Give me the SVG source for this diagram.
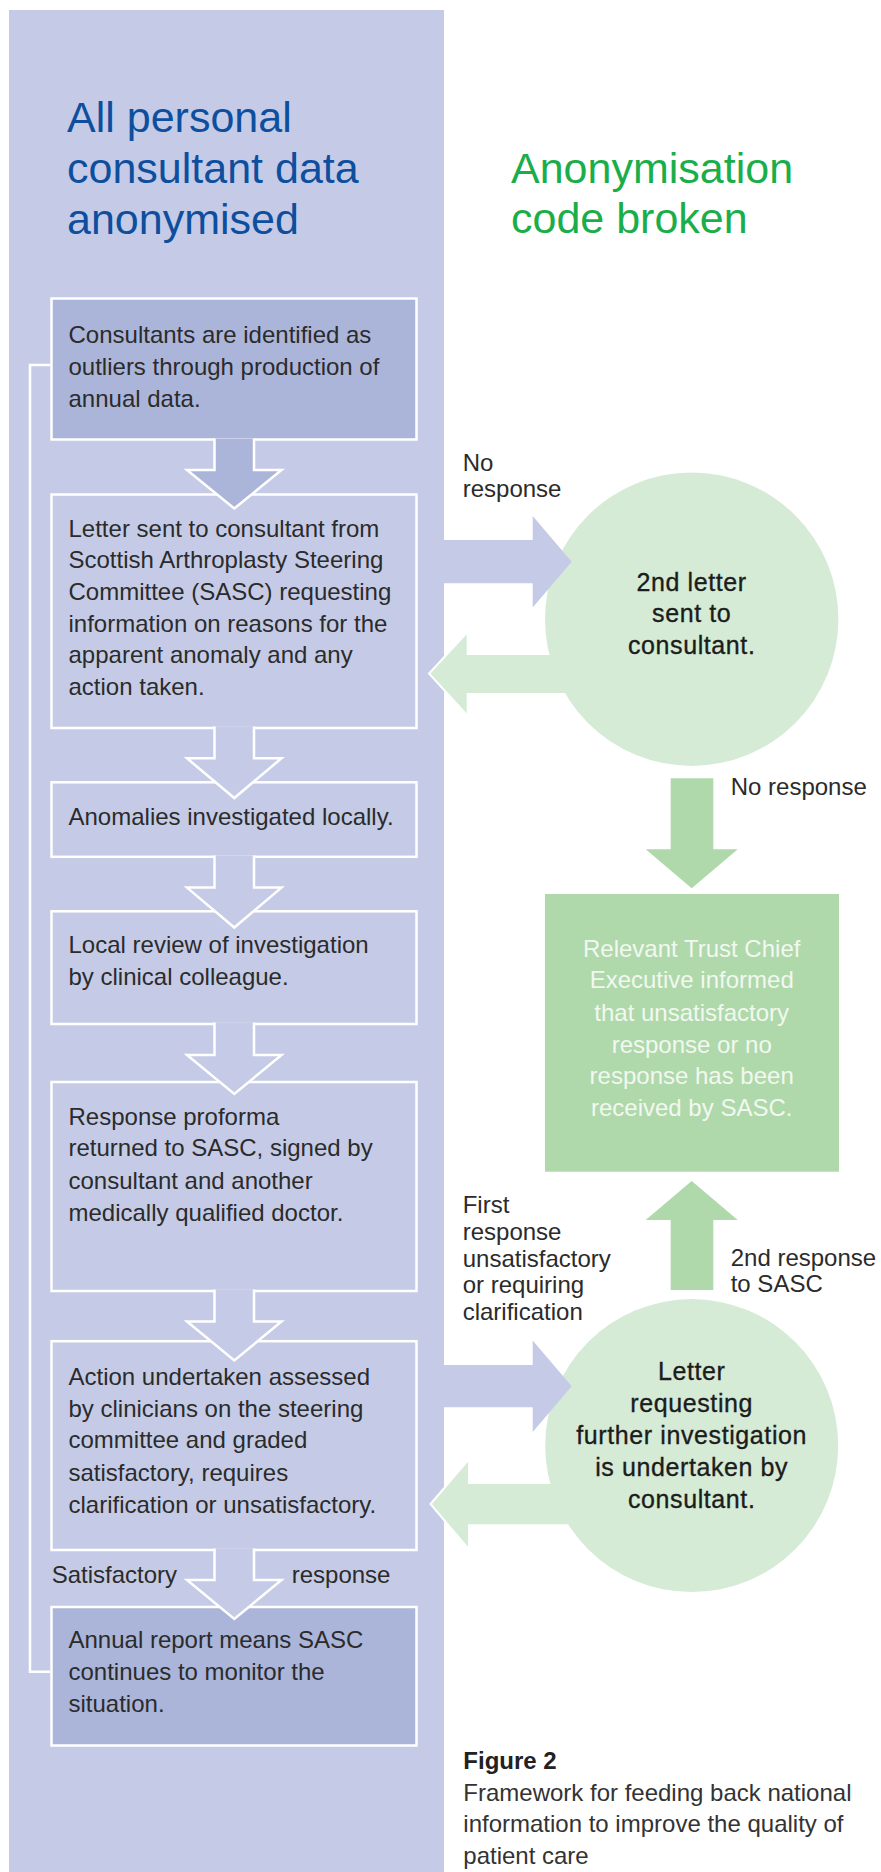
<svg xmlns="http://www.w3.org/2000/svg" width="881" height="1872" viewBox="0 0 881 1872">
<style>
.t{font-family:"Liberation Sans",Arial,sans-serif;font-size:24px;fill:#2b2b2b}
.tc{font-family:"Liberation Sans",Arial,sans-serif;font-size:25px;fill:#1c1c1c;stroke:#1c1c1c;stroke-width:0.35;letter-spacing:0.6px;text-anchor:middle}
.tw{font-family:"Liberation Sans",Arial,sans-serif;font-size:24px;fill:#f2f8f0;text-anchor:middle}
.title{font-family:"Liberation Sans",Arial,sans-serif;font-size:43px}
.box{stroke:#ffffff;stroke-width:2.5}
.dark{fill:#abb5da}
.light{fill:#c5cbe6}
.dn{stroke:#ffffff;stroke-width:2.5;stroke-linejoin:miter}
.gl{fill:#d5ebd6}
.gm{fill:#afd8ab}
</style>
<rect x="0" y="0" width="881" height="1872" fill="#ffffff"/>
<rect id="panel" x="9" y="10" width="435" height="1862" fill="#c5cbe6"/>
<g id="titles">
<text class="title" fill="#0d4f9e"><tspan x="67" y="131.7">All personal</tspan><tspan x="67" y="182.7">consultant data</tspan><tspan x="67" y="234.3">anonymised</tspan></text>
<text class="title" fill="#1aae4a"><tspan x="511" y="182.7">Anonymisation</tspan><tspan x="511" y="233.3">code broken</tspan></text>
</g>
<g id="connectors">
<polyline points="50,365 30,365 30,1671.7 50,1671.7" fill="none" stroke="#ffffff" stroke-width="2.5"/>
<polygon id="green-left-1" class="gl" points="600,654 467.7,654 467.7,631.7 429,673.5 467.7,716 467.7,694 600,694" stroke="#ffffff" stroke-width="2"/>
<polygon id="green-left-2" class="gl" points="600,1483 469,1483 469,1459 430.5,1504 469,1549.5 469,1525.2 600,1525.2" stroke="#ffffff" stroke-width="2"/>
<polygon id="green-down" class="gm" points="670.7,778.3 713.3,778.3 713.3,849.3 737.7,849.3 691.7,888.3 645.7,849.3 670.7,849.3"/>
<polygon id="green-up" class="gm" points="670.7,1290 713.3,1290 713.3,1220 737.7,1220 691.7,1181 645.7,1220 670.7,1220"/>
</g>
<g id="n1"><rect class="box dark" x="51.5" y="298.5" width="365" height="141"/>
<text class="t"><tspan x="68.5" y="343">Consultants are identified as</tspan><tspan x="68.5" y="375">outliers through production of</tspan><tspan x="68.5" y="406.7">annual data.</tspan></text></g>
<g id="n2"><rect class="box light" x="51.5" y="494.5" width="365" height="233.5"/>
<text class="t"><tspan x="68.5" y="536.7">Letter sent to consultant from</tspan><tspan x="68.5" y="568.3">Scottish Arthroplasty Steering</tspan><tspan x="68.5" y="600">Committee (SASC) requesting</tspan><tspan x="68.5" y="631.7">information on reasons for the</tspan><tspan x="68.5" y="663.3">apparent anomaly and any</tspan><tspan x="68.5" y="695">action taken.</tspan></text></g>
<g id="n3"><rect class="box light" x="51.5" y="782.3" width="365" height="74.5"/>
<text class="t"><tspan x="68.5" y="825">Anomalies investigated locally.</tspan></text></g>
<g id="n4"><rect class="box light" x="51.5" y="911.3" width="365" height="112.7"/>
<text class="t"><tspan x="68.5" y="953.4">Local review of investigation</tspan><tspan x="68.5" y="985.2">by clinical colleague.</tspan></text></g>
<g id="n5"><rect class="box light" x="51.5" y="1082" width="365" height="209"/>
<text class="t"><tspan x="68.5" y="1124.5">Response proforma</tspan><tspan x="68.5" y="1156.3">returned to SASC, signed by</tspan><tspan x="68.5" y="1188.5">consultant and another</tspan><tspan x="68.5" y="1220.5">medically qualified doctor.</tspan></text></g>
<g id="n6"><rect class="box light" x="51.5" y="1341.2" width="365" height="208.8"/>
<text class="t"><tspan x="68.5" y="1385">Action undertaken assessed</tspan><tspan x="68.5" y="1416.7">by clinicians on the steering</tspan><tspan x="68.5" y="1448.3">committee and graded</tspan><tspan x="68.5" y="1480.5">satisfactory, requires</tspan><tspan x="68.5" y="1513">clarification or unsatisfactory.</tspan></text></g>
<g id="n7"><rect class="box dark" x="51.5" y="1607" width="365" height="138.5"/>
<text class="t"><tspan x="68.5" y="1648.3">Annual report means SASC</tspan><tspan x="68.5" y="1680">continues to monitor the</tspan><tspan x="68.5" y="1711.7">situation.</tspan></text></g>
<g id="down-arrows">
<path class="dn dark" d="M214.5,438.5 V470 H187 L234.3,508.5 L281.5,470 H254 V438.5"/>
<path class="dn light" d="M214.5,726.5 V758.3 H187 L234.3,798 L281.5,758.3 H254 V726.5"/>
<path class="dn light" d="M214.5,855.5 V887.6 H187 L234.3,927.5 L281.5,887.6 H254 V855.5"/>
<path class="dn light" d="M214.5,1022.5 V1055 H187 L234.3,1094 L281.5,1055 H254 V1022.5"/>
<path class="dn light" d="M214.5,1289.5 V1321.5 H187 L234.3,1360.5 L281.5,1321.5 H254 V1289.5"/>
<path class="dn light" d="M214.5,1548.5 V1580 H187 L234.3,1619 L281.5,1580 H254 V1548.5"/>
</g>
<text class="t" x="51.7" y="1583.3">Satisfactory</text>
<text class="t" x="291.7" y="1583.3">response</text>
<g id="c1"><circle cx="691.7" cy="619.2" r="146.7" class="gl"/>
<text class="tc"><tspan x="691.7" y="590.7">2nd letter</tspan><tspan x="691.7" y="622.3">sent to</tspan><tspan x="691.7" y="654.3">consultant.</tspan></text></g>
<g id="c2"><circle cx="691.7" cy="1445.6" r="146.5" class="gl"/>
<text class="tc"><tspan x="691.7" y="1379.8">Letter</tspan><tspan x="691.7" y="1412">requesting</tspan><tspan x="691.7" y="1444">further investigation</tspan><tspan x="691.7" y="1475.8">is undertaken by</tspan><tspan x="691.7" y="1507.6">consultant.</tspan></text></g>
<g id="blue-arrows">
<polygon class="light" points="443,540 532.7,540 532.7,516 571.7,561.7 532.7,607.5 532.7,583.3 443,583.3"/>
<polygon class="light" points="443,1365 532.7,1365 532.7,1340.4 571.7,1386.2 532.7,1432 532.7,1407.3 443,1407.3"/>
</g>
<g id="nb"><rect x="545" y="894" width="294" height="277.7" class="gm"/>
<text class="tw"><tspan x="691.7" y="956.7">Relevant Trust Chief</tspan><tspan x="691.7" y="988.3">Executive informed</tspan><tspan x="691.7" y="1020.5">that unsatisfactory</tspan><tspan x="691.7" y="1052.7">response or no</tspan><tspan x="691.7" y="1084.3">response has been</tspan><tspan x="691.7" y="1116">received by SASC.</tspan></text></g>
<g id="labels">
<text class="t"><tspan x="462.7" y="470.7">No</tspan><tspan x="462.7" y="497.3">response</tspan></text>
<text class="t" x="730.7" y="795">No response</text>
<text class="t"><tspan x="462.7" y="1213.3">First</tspan><tspan x="462.7" y="1240">response</tspan><tspan x="462.7" y="1266.7">unsatisfactory</tspan><tspan x="462.7" y="1293">or requiring</tspan><tspan x="462.7" y="1320">clarification</tspan></text>
<text class="t"><tspan x="730.7" y="1266">2nd response</tspan><tspan x="730.7" y="1292">to SASC</tspan></text>
</g>
<g id="caption">
<text class="t" x="463.3" y="1768.8" font-weight="bold" style="fill:#222">Figure 2</text>
<text class="t" style="fill:#333"><tspan x="463.3" y="1800.5">Framework for feeding back national</tspan><tspan x="463.3" y="1832">information to improve the quality of</tspan><tspan x="463.3" y="1863.8">patient care</tspan></text>
</g>
</svg>
